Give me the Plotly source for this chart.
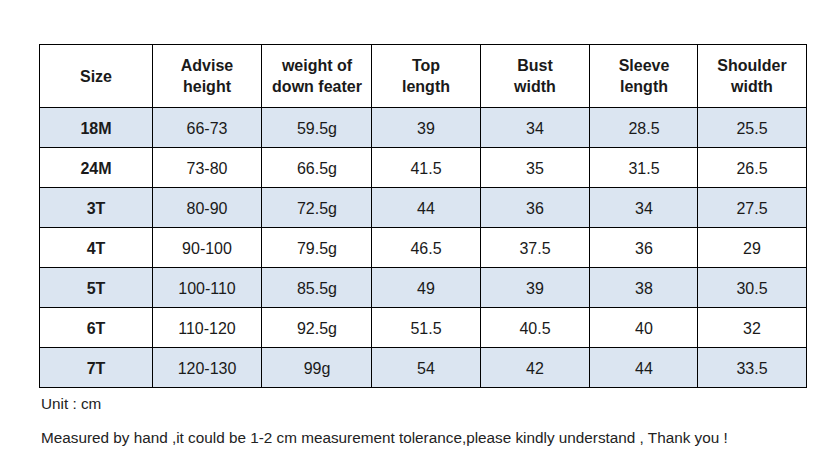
import plotly.graph_objects as go

headers = [["Size"], ["Advise", "height"], ["weight of", "down feater"], ["Top", "length"],
           ["Bust", "width"], ["Sleeve", "length"], ["Shoulder", "width"]]
sizes = ["18M", "24M", "3T", "4T", "5T", "6T", "7T"]
advise_height = ["66-73", "73-80", "80-90", "90-100", "100-110", "110-120", "120-130"]
down_weight = ["59.5g", "66.5g", "72.5g", "79.5g", "85.5g", "92.5g", "99g"]
top_length = ["39", "41.5", "44", "46.5", "49", "51.5", "54"]
bust_width = ["34", "35", "36", "37.5", "39", "40.5", "42"]
sleeve_length = ["28.5", "31.5", "34", "36", "38", "40", "44"]
shoulder_width = ["25.5", "26.5", "27.5", "29", "30.5", "32", "33.5"]

W, H = 837, 463
OFF = 8  # page body margin shifts the figure by 8px; axes are set up in screen pixels
FONT = "Liberation Sans, Arial"
SHADE = "#dbe5f1"

# grid line positions (screen pixels)
col_lines = [39, 152, 261, 371, 480, 589, 697, 806]
row_lines = [44, 107, 147, 187, 227, 267, 307, 347, 387]
x_edges = [c + 0.5 for c in col_lines]
y_edges = [r + 0.5 for r in row_lines]

columns = [[f"<b>{s}</b>" for s in sizes], advise_height, down_weight, top_length,
           bust_width, sleeve_length, shoulder_width]
header_row = ["<br>".join(f"<b>{w}</b>" for w in h) for h in headers]
text = [header_row] + [list(r) for r in zip(*columns)]
z = [[0] * len(headers)] + [[1 if i % 2 == 0 else 0] * len(headers) for i in range(len(sizes))]

fig = go.Figure(
    go.Heatmap(
        x=x_edges,
        y=y_edges,
        z=z,
        text=text,
        texttemplate="%{text}",
        textfont=dict(family=FONT, size=16, color="#1a1a1a"),
        colorscale=[[0, "white"], [1, SHADE]],
        zmin=0,
        zmax=1,
        showscale=False,
        hoverinfo="skip",
    )
)

line_style = dict(color="black", width=1)
for x in x_edges:
    fig.add_shape(type="line", x0=x, x1=x, y0=y_edges[0] - 0.5, y1=y_edges[-1] + 0.5, line=line_style)
for y in y_edges:
    fig.add_shape(type="line", x0=x_edges[0] - 0.5, x1=x_edges[-1] + 0.5, y0=y, y1=y, line=line_style)

fig.add_annotation(x=39, y=403, xanchor="left", yanchor="middle", text="Unit : cm", showarrow=False,
                   font=dict(family=FONT, size=15.3, color="#222"))
fig.add_annotation(x=39, y=437, xanchor="left", yanchor="middle",
                   text="Measured by hand ,it could be 1-2 cm measurement tolerance,please kindly understand , Thank you !",
                   showarrow=False, font=dict(family=FONT, size=15.3, color="#222"))

fig.update_xaxes(range=[OFF, OFF + W], visible=False, fixedrange=True)
fig.update_yaxes(range=[OFF + H, OFF], visible=False, fixedrange=True)
fig.update_layout(width=W, height=H, margin=dict(l=0, r=0, t=0, b=0),
                  paper_bgcolor="white", plot_bgcolor="white")
fig.write_html("out.html")
